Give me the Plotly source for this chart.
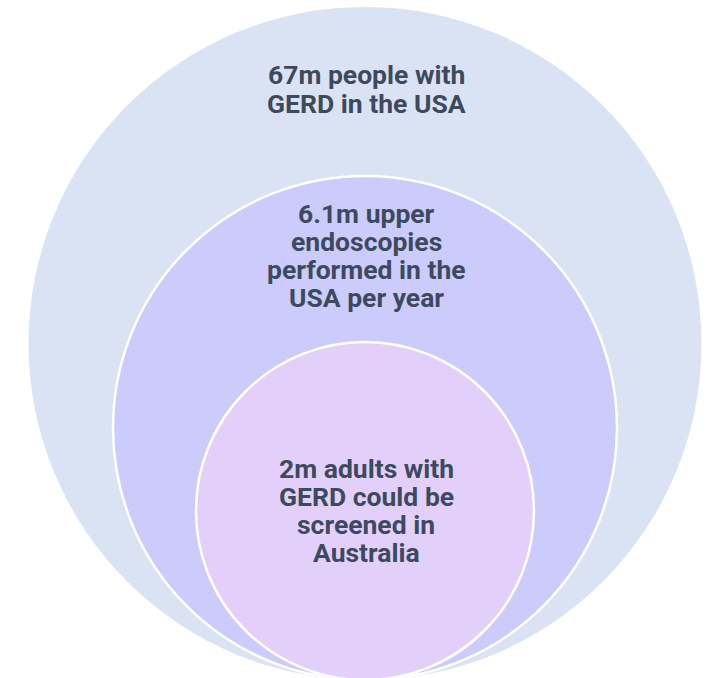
import plotly.graph_objects as go

# ---- data ----
labels = [
    ["67m people with", "GERD in the USA"],
    ["6.1m upper", "endoscopies", "performed in the", "USA per year"],
    ["2m adults with", "GERD could be", "screened in", "Australia"],
]
values_m = [67, 6.1, 2]  # millions (descriptive)

# ---- layout / style ----
W, H = 707, 678
cx = 365
bottom = 680            # common tangent point (just below the frame)
radii = [336.5, 252, 169]
fills = ["#dae3f3", "#cbcbfc", "#e3d0fa"]
borders = ["rgba(255,255,255,0)", "#ffffff", "#ffffff"]
text_color = "#3d4a5e"
font_size = 26.5
line_gap = 28.3

fig = go.Figure()
shapes = []
for r, fc, bc in zip(radii, fills, borders):
    cy = bottom - r
    shapes.append(dict(type="circle", xref="x", yref="y",
                       x0=cx - r, x1=cx + r, y0=cy - r, y1=cy + r,
                       fillcolor=fc, line=dict(color=bc, width=2.5),
                       layer="below"))

tops = [bottom - 2 * r for r in radii]
label_y = [
    (tops[0] + tops[1]) / 2 - 2.5,
    (tops[1] + tops[2]) / 2 - 3.5,
    bottom - radii[2] - 0.5,
]
annotations = []
for lines, yc in zip(labels, label_y):
    n = len(lines)
    for i, ln in enumerate(lines):
        y = yc + (i - (n - 1) / 2) * line_gap
        annotations.append(dict(x=cx + 1, y=y, xref="x", yref="y", text=ln,
                                showarrow=False, align="center",
                                font=dict(family="Roboto", size=font_size,
                                          color=text_color, weight=700)))

fig.add_trace(go.Scatter(x=[0, W], y=[0, H], mode="markers",
                         marker=dict(opacity=0), hoverinfo="skip", showlegend=False))

fig.update_layout(
    width=W, height=H, margin=dict(l=0, r=0, t=0, b=0),
    paper_bgcolor="white", plot_bgcolor="white",
    shapes=shapes, annotations=annotations,
    xaxis=dict(range=[0, W], visible=False, fixedrange=True),
    yaxis=dict(range=[H, 0], visible=False, fixedrange=True),
    showlegend=False,
)
fig.write_html("out.html", config={"displayModeBar": False},
               post_script="document.body.style.margin='0';document.body.style.overflow='hidden';")
